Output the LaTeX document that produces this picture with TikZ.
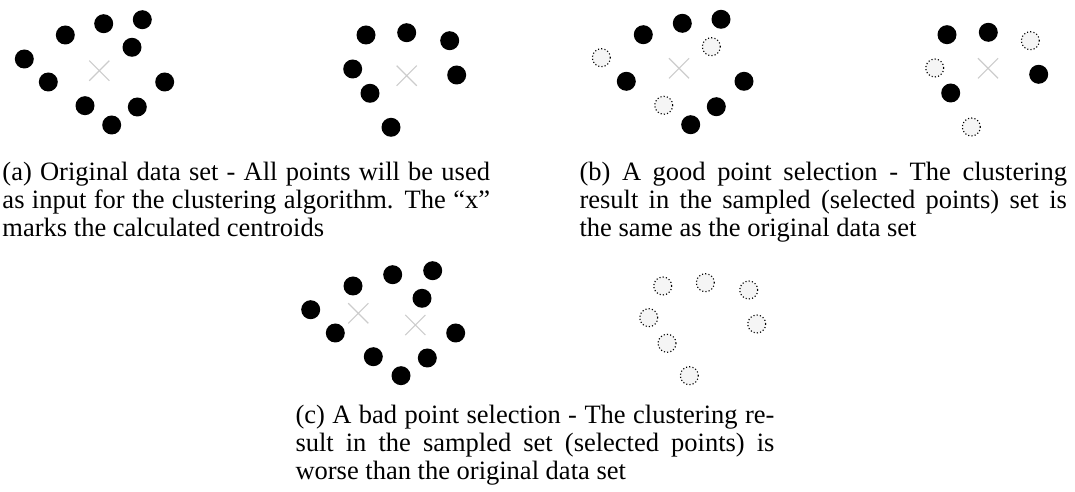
\documentclass[tikz,border=0pt]{standalone}
\usepackage{fontspec}
\setmainfont{Liberation Serif}
\usetikzlibrary{shapes.misc}

\begin{document}
\begin{tikzpicture}[
    x=0.4pt,y=-0.4pt,
    kept/.style={circle,fill=black,inner sep=0pt,minimum size=7.6pt},
    dropped/.style={circle,draw=black,fill=gray!8,line width=0.45pt,
      dash pattern=on 0.45pt off 0.85pt,inner sep=0pt,minimum size=7.2pt},
    centroid/.style={cross out,draw=gray!40,line width=0.45pt,
      inner sep=0pt,minimum size=7.6pt},
    capt/.style={anchor=north west,inner sep=0pt,text width=195pt,
      align=justify,font=\fontsize{10.6}{11.2}\selectfont}
  ]
  \useasboundingbox (0,0) rectangle (1075,492);

  % (a) original data set
  \foreach \px/\py [count=\i] in {24.3/59,65.3/35,103.7/23.7,142.3/19.7,
      132/47.3,48.3/82,164.7/82,85/105.7,137.3/107,111.7/125}
    \node[kept] (a\i) at (\px,\py) {};
  \node[centroid] (ca) at (99.3,70.7) {};
  \foreach \px/\py [count=\i] in {366/35,406.7/32.7,449.7/40.7,352.7/69,
      456.7/75,370/93.3,391/127.3}
    \node[kept] (aa\i) at (\px,\py) {};
  \node[centroid] (caa) at (406.7,75.7) {};

  % (b) good selection
  \foreach \px/\py [count=\i] in {643.3/34.7,682.3/23.3,721/19.3,
      626.3/81.3,744/81.3,716.3/106.7,690.7/124.7}
    \node[kept] (b\i) at (\px,\py) {};
  \foreach \px/\py [count=\i] in {601.3/57.7,711.3/46.7,663.7/105.3}
    \node[dropped] (bd\i) at (\px,\py) {};
  \node[centroid] (cb) at (679,68.3) {};
  \foreach \px/\py [count=\i] in {947/34.7,988.3/32.3,1038.7/74.3,950.7/93}
    \node[kept] (bb\i) at (\px,\py) {};
  \foreach \px/\py [count=\i] in {1030.3/40.7,934.7/68,971.3/127}
    \node[dropped] (bbd\i) at (\px,\py) {};
  \node[centroid] (cbb) at (988,68.3) {};

  % (c) bad selection
  \foreach \px/\py [count=\i] in {310.7/309.7,353/286,392.7/274.7,
      432.7/270.7,422/298.3,335.3/333,455.7/333,373.3/356.7,
      427.3/358,401/375.7}
    \node[kept] (c\i) at (\px,\py) {};
  \node[centroid] (cc1) at (358.3,313.3) {};
  \node[centroid] (cc2) at (415.3,325) {};
  \foreach \px/\py [count=\i] in {662.7/286,705.3/282.7,748.7/290,
      648.7/317.7,756.7/324,667/343.3,689.3/375.7}
    \node[dropped] (cd\i) at (\px,\py) {};

  % captions
  \node[capt] (capa) at (2,161.5) {(a) Original data set - All points
    will be used\linebreak as input for the clustering algorithm. The
    ``x''\linebreak marks the calculated centroids};
  \node[capt] (capb) at (579,161.5) {(b) A good point selection - The
    clustering\linebreak result in the sampled (selected points) set
    is\linebreak the same as the original data set};
  \node[capt,text width=191.6pt] (capc) at (295,405) {(c) A bad point
    selection - The clustering re-\linebreak sult in the sampled set
    (selected points) is\linebreak worse than the original data set};
\end{tikzpicture}
\end{document}
